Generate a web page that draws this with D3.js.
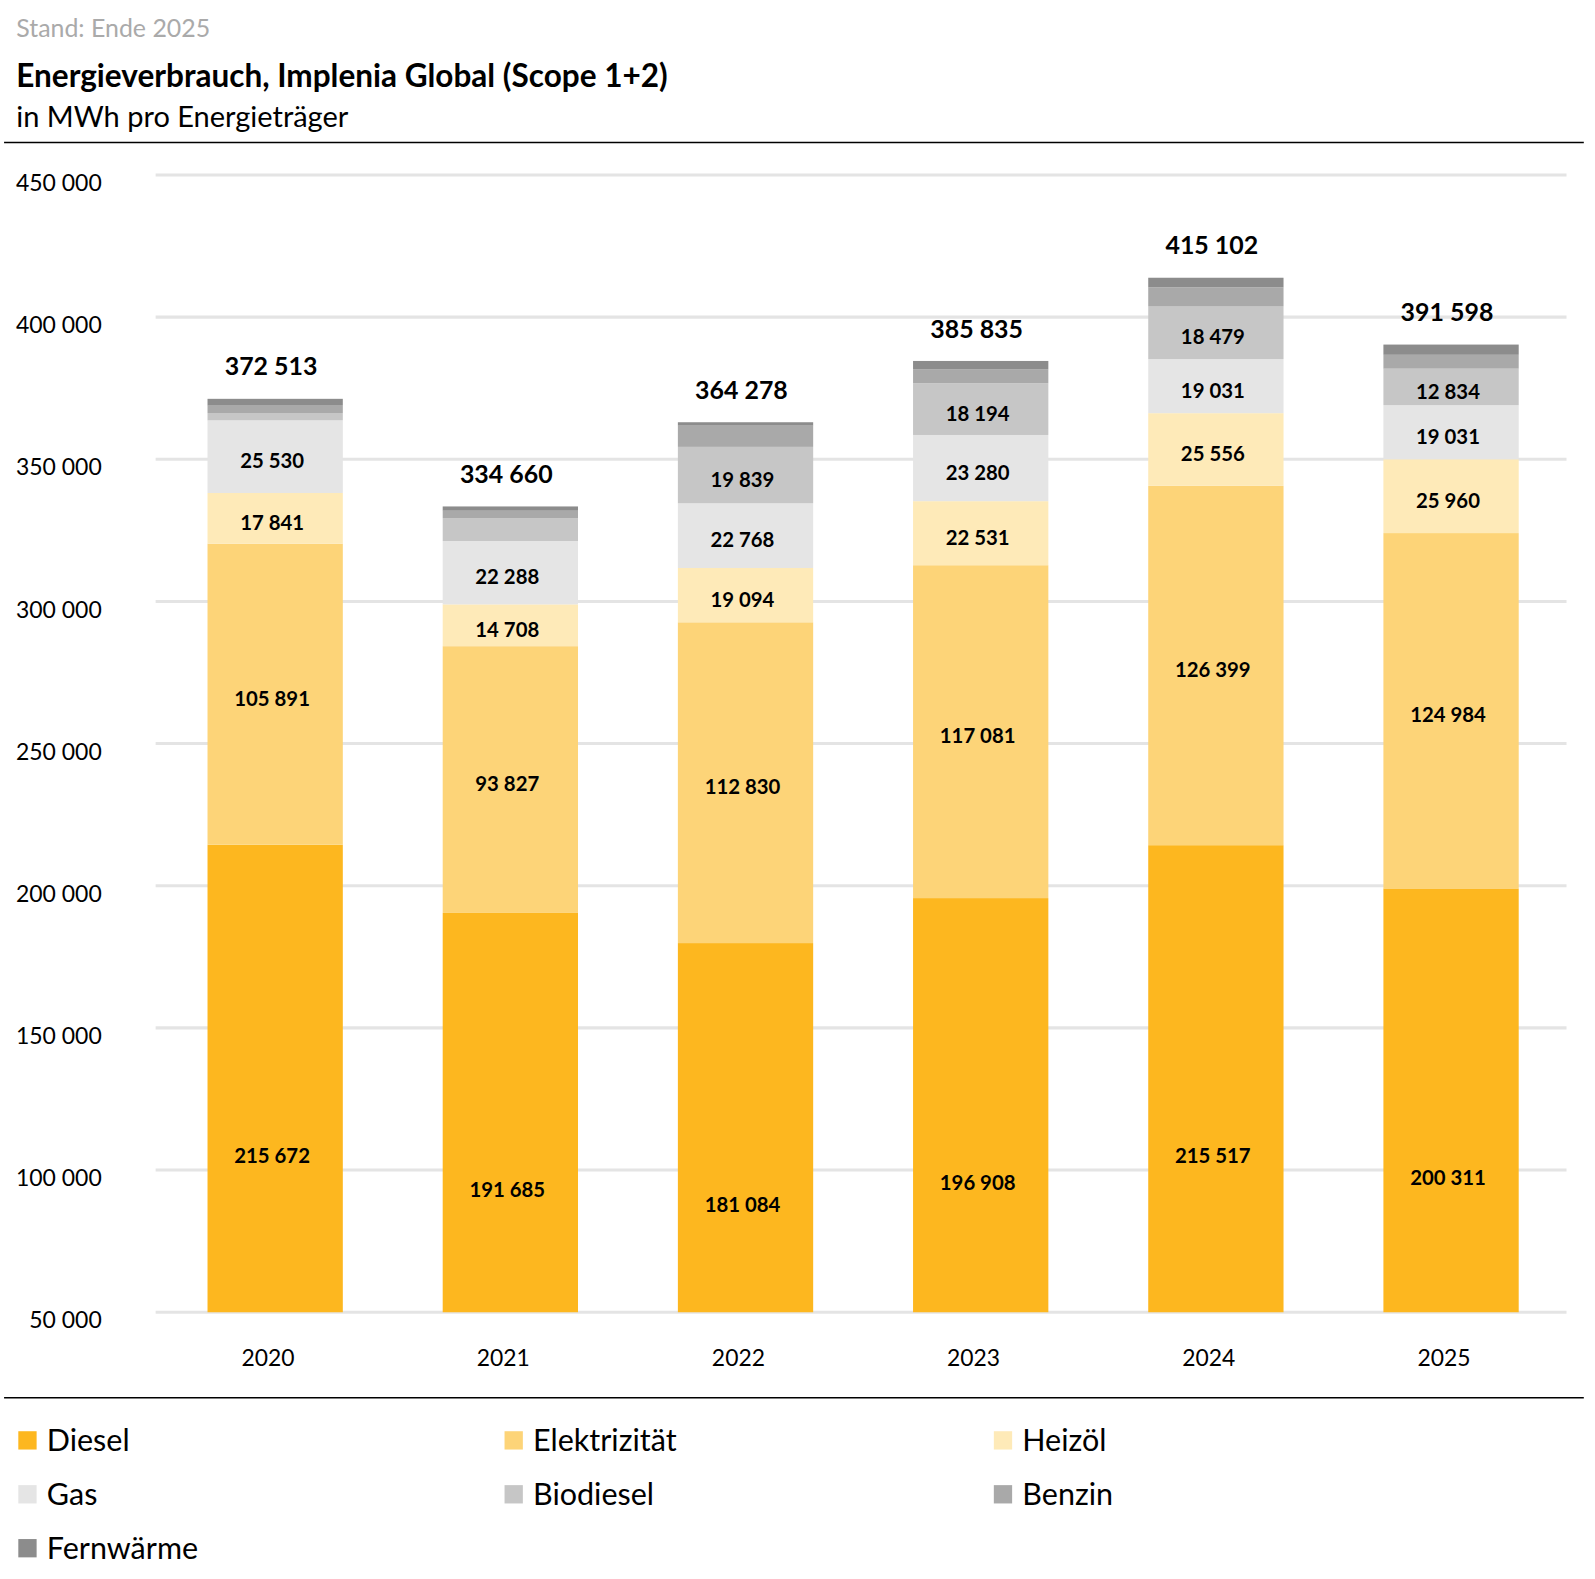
<!DOCTYPE html>
<html>
<head>
<meta charset="utf-8">
<script src="https://cdn.jsdelivr.net/npm/d3@7"></script>
<style>
  html, body { margin: 0; padding: 0; background: #fff; overflow: hidden; }
  svg { display: block; font-family: 'Lato', 'Noto Sans', sans-serif; }
</style>
</head>
<body>
<div class="chart"></div>
<script>
const years = ['2020', '2021', '2022', '2023', '2024', '2025']
const seriesNames = ['Diesel', 'Elektrizität', 'Heizöl', 'Gas', 'Biodiesel', 'Benzin', 'Fernwärme']
const seriesColors = ['#fdb71f', '#fdd478', '#feeab8', '#e5e5e5', '#c6c6c6', '#a9a9a9', '#8c8c8c']

const diesel = [215672, 191685, 181084, 196908, 215517, 200311]
const elektrizitaet = [105891, 93827, 112830, 117081, 126399, 124984]
const heizoel = [17841, 14708, 19094, 22531, 25556, 25960]
const gas = [25530, 22288, 22768, 23280, 19031, 19031]
const biodiesel = [2579, 8052, 19839, 18194, 18479, 12834]
const benzin = [2600, 2600, 7463, 4941, 6720, 4878]
const fernwaerme = [2400, 1500, 1200, 2900, 3400, 3600]
const totals = [372513, 334660, 364278, 385835, 415102, 391598]

const yTicks = [50000, 100000, 150000, 200000, 250000, 300000, 350000, 400000, 450000]

const W = 1595, H = 1579
// layout is laid out on a 1568 wide grid and scaled up to the page
const S = W / 1568
const plot = { left: 153, right: 1544, top: 172, bottom: 1290 }
const barShift = 3.5

const root = d3.select('.chart')
    .append('svg')
    .attr('width', W)
    .attr('height', H)
const svg = root.append('g').attr('transform', `scale(${S})`)

const fmt = v => d3.format(',')(v).replace(/,/g, ' ')

// header
svg.append('text').attr('x', 16).attr('y', 36.5)
    .style('font-size', '24.5px').style('fill', '#aaaaaa')
    .text('Stand: Ende 2025')
svg.append('text').attr('x', 16).attr('y', 86)
    .style('font-size', '31px').style('font-weight', 'bold').style('fill', '#000')
    .text('Energieverbrauch, Implenia Global (Scope 1+2)')
svg.append('text').attr('x', 16).attr('y', 125)
    .style('font-size', '28.5px').style('fill', '#000')
    .text('in MWh pro Energieträger')
svg.append('line').attr('x1', 4).attr('x2', 1557).attr('y1', 140).attr('y2', 140)
    .attr('stroke', '#000').attr('stroke-width', 1.5)
svg.append('line').attr('x1', 4).attr('x2', 1557).attr('y1', 1374).attr('y2', 1374)
    .attr('stroke', '#000').attr('stroke-width', 1.5)

const x = d3.scaleBand()
    .domain(years)
    .range([plot.left, plot.right])
    .paddingInner(0.4247)
    .paddingOuter(0.2206)

const y = d3.scaleLinear()
    .domain([50000, 450000])
    .range([plot.bottom, plot.top])

// grid
svg.append('g')
    .selectAll('line')
    .data(yTicks)
    .join('line')
    .attr('x1', plot.left)
    .attr('x2', 1540)
    .attr('y1', d => y(d))
    .attr('y2', d => y(d))
    .attr('stroke', '#e4e4e4')
    .attr('stroke-width', 3)

// y axis
const yAxis = svg.append('g')
    .attr('transform', 'translate(100,0)')
    .call(d3.axisLeft(y).tickValues(yTicks).tickFormat(fmt).tickSize(0).tickPadding(0))
yAxis.select('.domain').remove()
yAxis.selectAll('text')
    .style('font-size', '22.6px')
    .style('font-family', "'Lato', 'Noto Sans', sans-serif")
    .attr('fill', '#000')
    .attr('dy', '0.68em')

// x axis
const xAxis = svg.append('g')
    .attr('transform', `translate(-7,${plot.bottom})`)
    .call(d3.axisBottom(x).tickSize(0).tickPadding(0))
xAxis.select('.domain').remove()
xAxis.selectAll('text')
    .style('font-size', '22.5px')
    .style('font-family', "'Lato', 'Noto Sans', sans-serif")
    .attr('fill', '#000')
    .attr('y', 53)
    .attr('dy', 0)

// stacked data
const table = years.map((yr, i) => ({
    year: yr,
    Diesel: diesel[i],
    'Elektrizität': elektrizitaet[i],
    'Heizöl': heizoel[i],
    Gas: gas[i],
    Biodiesel: biodiesel[i],
    Benzin: benzin[i],
    'Fernwärme': fernwaerme[i]
}))
const stacked = d3.stack().keys(seriesNames)(table)

svg.append('clipPath').attr('id', 'plotclip')
    .append('rect')
    .attr('x', 0).attr('y', 0).attr('width', 1568).attr('height', plot.bottom - barShift)

const bars = svg.append('g')
    .attr('transform', `translate(0,${barShift})`)

const layers = bars.append('g')
    .attr('clip-path', 'url(#plotclip)')
    .selectAll('g')
    .data(stacked)
    .join('g')
    .attr('fill', (d, i) => seriesColors[i])

layers.selectAll('rect')
    .data(d => d)
    .join('rect')
    .attr('x', d => x(d.data.year))
    .attr('width', x.bandwidth())
    .attr('y', d => y(d[1]))
    .attr('height', d => y(d[0]) - y(d[1]))

// segment labels
const labelData = []
stacked.forEach((layer, k) => {
    layer.forEach(d => {
        const v = d[1] - d[0]
        if (k < 5 && v > 10000) labelData.push({ year: d.data.year, mid: (d[0] + d[1]) / 2, v })
    })
})
bars.append('g')
    .selectAll('text')
    .data(labelData)
    .join('text')
    .attr('x', d => x(d.year) + x.bandwidth() / 2 - 3)
    .attr('y', d => y(d.mid) + 11.5)
    .attr('text-anchor', 'middle')
    .style('font-size', '20px')
    .style('font-weight', 'bold')
    .style('fill', '#000')
    .text(d => fmt(d.v))

// totals
bars.append('g')
    .selectAll('text')
    .data(totals)
    .join('text')
    .attr('x', (d, i) => x(years[i]) + x.bandwidth() / 2 - 4)
    .attr('y', d => y(d) - 23)
    .attr('text-anchor', 'middle')
    .style('font-size', '24.5px')
    .style('font-weight', 'bold')
    .style('fill', '#000')
    .text(d => fmt(d))

// legend
const legend = svg.append('g')
    .selectAll('g')
    .data(seriesNames)
    .join('g')
    .attr('transform', (d, i) => `translate(${[18, 496, 977][i % 3]},${1416 + Math.floor(i / 3) * 53})`)
legend.append('rect')
    .attr('x', 0).attr('y', -9).attr('width', 18).attr('height', 18)
    .attr('fill', (d, i) => seriesColors[i])
legend.append('text')
    .attr('x', 28).attr('y', 10.5)
    .style('font-size', '30px')
    .style('fill', '#000')
    .text(d => d)
</script>
</body>
</html>
